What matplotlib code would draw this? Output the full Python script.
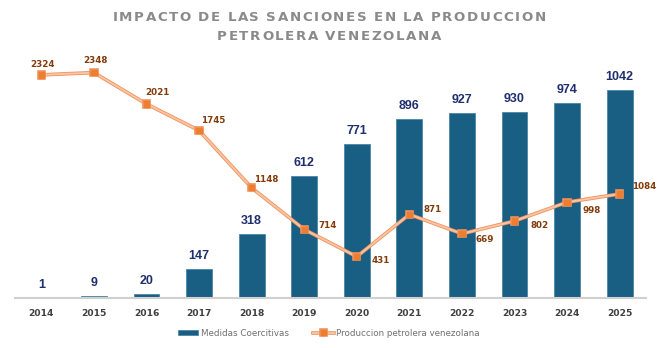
import matplotlib.pyplot as plt
import matplotlib.patheffects as pe

# datos
years = ['2014', '2015', '2016', '2017', '2018', '2019',
         '2020', '2021', '2022', '2023', '2024', '2025']
medidas = [1, 9, 20, 147, 318, 612, 771, 896, 927, 930, 974, 1042]
produccion = [2324, 2348, 2021, 1745, 1148, 714, 431, 871, 669, 802, 998, 1084]
titulo = ['IMPACTO DE LAS SANCIONES EN LA PRODUCCION', 'PETROLERA VENEZOLANA']

# desplazamiento de etiquetas de la linea (pixeles)
offsets = [(1, 10), (2, 12), (11, 11), (14, 10), (15, 8), (23, 4),
           (24, -4), (23, 5), (23, -6), (25, -4), (25, -8), (24, 7)]

TITLE_PROPS = dict(fontsize=9.6, fontweight='bold', color='#8A8A8A', family='DejaVu Sans')


def char_widths(fig, renderer, line):
    widths = []
    for ch in line:
        t = fig.text(0, 0, ch if ch != ' ' else 'I', **TITLE_PROPS)
        w = t.get_window_extent(renderer).width
        t.remove()
        widths.append(w * (0.8 if ch == ' ' else 1.0))
    return widths


def spaced_text(fig, widths, line, y_px, tracking):
    # texto con espaciado entre letras (en pixeles)
    W, H = fig.bbox.width, fig.bbox.height
    total = sum(widths) + tracking * (len(line) - 1)
    x = (W - total) / 2
    for ch, w in zip(line, widths):
        if ch != ' ':
            fig.text(x / W, 1 - y_px / H, ch, ha='left', va='baseline', **TITLE_PROPS)
        x += w + tracking


def main():
    fig = plt.figure(figsize=(6.58, 3.48), dpi=100)
    ax = fig.add_axes([15 / 658, 50 / 348, 631 / 658, 240 / 348])
    ax2 = ax.twinx()

    x = list(range(len(years)))
    bars = ax.bar(x, medidas, width=0.49, color='#195F83',
                  edgecolor='#4A86A6', linewidth=0.6,
                  label='Medidas Coercitivas', zorder=2)
    for xi, v in zip(x, medidas):
        ax.annotate(str(v), (xi, v), xytext=(0, 5), textcoords='offset points',
                    ha='center', va='bottom', fontsize=9, fontweight='bold',
                    color='#1F2F6E', family='Liberation Sans')

    ln, = ax2.plot(x, produccion, '-', color='#F8C4A4', lw=1.4,
                   marker='s', markersize=3.8, markerfacecolor='#ED7D31',
                   markeredgecolor='#ED7D31',
                   path_effects=[pe.Stroke(linewidth=2.6, foreground='#F0925C'), pe.Normal()],
                   label='Produccion petrolera venezolana', zorder=3)
    for xi, v, off in zip(x, produccion, offsets):
        ax2.annotate(str(v), (xi, v), xytext=off, textcoords='offset pixels',
                     ha='center', va='center', fontsize=6.3, fontweight='bold',
                     color='#843C0C')

    ax.set_xlim(-0.5, len(years) - 0.5)
    ax.set_ylim(0, 1200)
    ax2.set_ylim(0, 2500)
    ax.set_xticks(x)
    ax.set_xticklabels(years, fontsize=6.6, fontweight='bold', color='#404040')
    ax.tick_params(axis='x', length=0, pad=8)
    ax.set_yticks([])
    ax2.set_yticks([])
    for a in (ax, ax2):
        for s in ('top', 'left', 'right', 'bottom'):
            a.spines[s].set_visible(False)
    ax.spines['bottom'].set_visible(True)
    ax.spines['bottom'].set_color('#D0D0D0')
    ax.spines['bottom'].set_linewidth(1.5)

    renderer = fig.canvas.get_renderer()
    w1 = char_widths(fig, renderer, titulo[0])
    w2 = char_widths(fig, renderer, titulo[1])
    tracking = (433 - sum(w1)) / (len(titulo[0]) - 1)
    spaced_text(fig, w1, titulo[0], 21, tracking)
    spaced_text(fig, w2, titulo[1], 40.5, tracking)

    fig.legend([bars, ln], ['Medidas Coercitivas', 'Produccion petrolera venezolana'],
               loc='center', bbox_to_anchor=(0.5, 1 - 333 / 348),
               ncol=2, frameon=False, fontsize=6.3, labelcolor='#707070',
               handlelength=2.3, handleheight=0.6, columnspacing=2.8, handletextpad=0.3)

    fig.savefig('out.png', dpi=100)


if __name__ == '__main__':
    main()
